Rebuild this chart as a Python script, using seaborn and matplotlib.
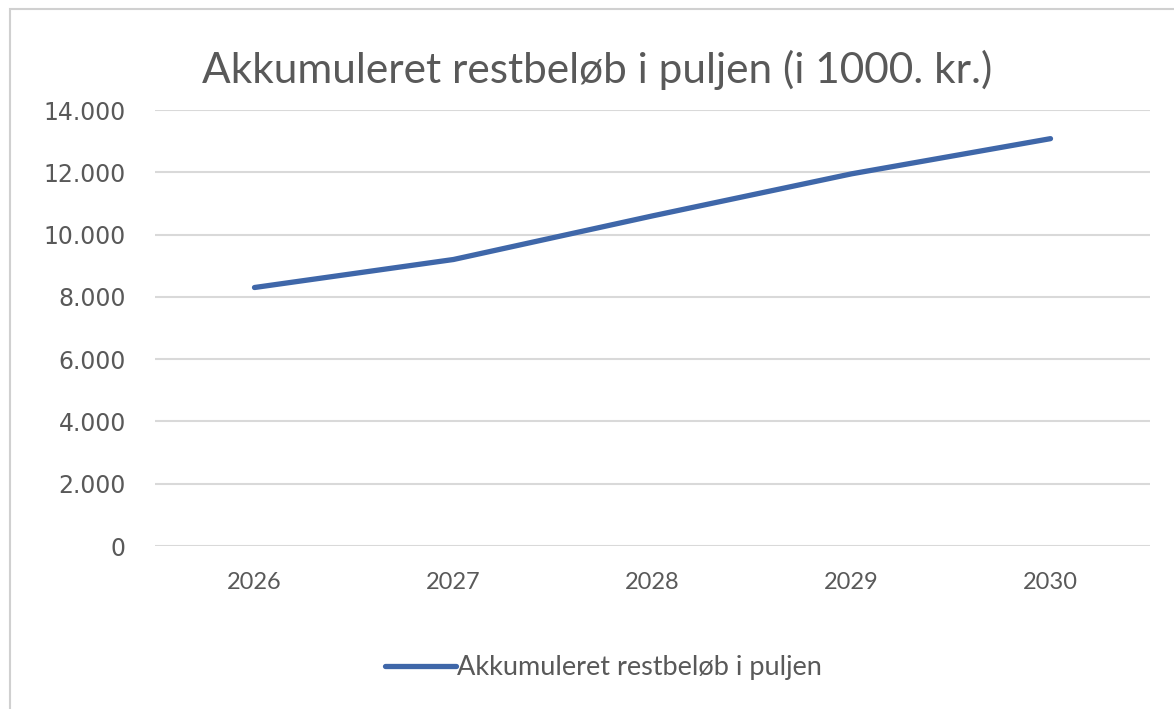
import matplotlib
matplotlib.use("Agg")
import matplotlib.pyplot as plt
import seaborn as sns
import pandas as pd
from matplotlib.ticker import FuncFormatter, MultipleLocator
from matplotlib.patches import Rectangle

years = ["2026", "2027", "2028", "2029", "2030"]
values = [8300, 9200, 10600, 11950, 13080]
series_name = "Akkumuleret restbeløb i puljen"
title = "Akkumuleret restbeløb i puljen (i 1000. kr.)"

sns.set_theme(style="white")
plt.rcParams['font.family'] = ['Lato', 'DejaVu Sans']

df = pd.DataFrame({"year": years, "value": values})

W, H = 1174, 709
fig = plt.figure(figsize=(W / 100, H / 100), dpi=100)
fig.patch.set_facecolor("white")

# outer chart frame
fig.patches.append(Rectangle((10 / W, -0.01), 1.02, 1 - 9 / H + 0.01, transform=fig.transFigure,
                             fill=False, edgecolor="#d0d0d0", linewidth=1.5))

ax = fig.add_axes([155 / W, 1 - 546 / H, (1150 - 155) / W, (546 - 110) / H])
sns.lineplot(data=df, x="year", y="value", ax=ax, color="#3f67a9", linewidth=3.8,
             label=series_name, sort=False)
ax.set_xlim(-0.5, 4.5)
ax.set_ylim(0, 14000)
ax.yaxis.set_major_locator(MultipleLocator(2000))
ax.yaxis.set_major_formatter(FuncFormatter(lambda v, p: f"{int(v):,}".replace(",", ".")))
ax.grid(axis="y", color="#d9d9d9", linewidth=1.5)
ax.grid(axis="x", visible=False)
for s in ax.spines.values():
    s.set_visible(False)
ax.set_xlabel("")
ax.set_ylabel("")
ax.tick_params(axis="y", length=0, pad=21, labelsize=17, labelcolor="#595959")
ax.tick_params(axis="x", length=0, pad=19, labelsize=17, labelcolor="#595959")
for t in ax.get_yticklabels():
    t.set_family("DejaVu Sans")
ax.set_axisbelow(True)

ax.get_legend().remove()
handles, labels = ax.get_legend_handles_labels()
fig.legend(handles, labels, loc="center", bbox_to_anchor=(0.514, 1 - 668 / H), frameon=False,
           fontsize=19.5, labelcolor="#595959", handlelength=2.6, handletextpad=0.05)

fig.text(0.509, 1 - 70 / H, title, ha="center", va="center", fontsize=30.5,
         color="#595959")

fig.savefig("out.png", dpi=100)
